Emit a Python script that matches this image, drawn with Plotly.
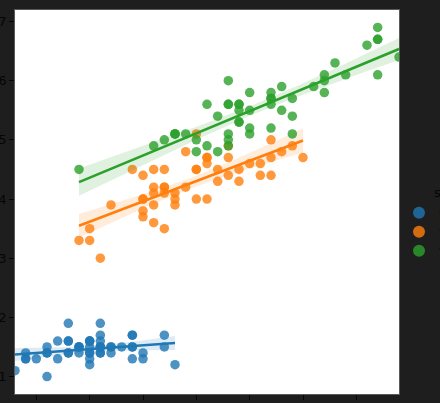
"""
iris lmplot
sepal length vs petal length, one regression per species
"""

import numpy as np
import plotly.graph_objects as go

# ==========================================================
# DATA
# ==========================================================

species = ["setosa", "versicolor", "virginica"]

colors = ["#1f77b4", "#ff7f0e", "#2ca02c"]

setosa_sepal_length = [
    5.1, 4.9, 4.7, 4.6, 5.0, 5.4, 4.6, 5.0, 4.4, 4.9,
    5.4, 4.8, 4.8, 4.3, 5.8, 5.7, 5.4, 5.1, 5.7, 5.1,
    5.4, 5.1, 4.6, 5.1, 4.8, 5.0, 5.0, 5.2, 5.2, 4.7,
    4.8, 5.4, 5.2, 5.5, 4.9, 5.0, 5.5, 4.9, 4.4, 5.1,
    5.0, 4.5, 4.4, 5.0, 5.1, 4.8, 5.1, 4.6, 5.3, 5.0
]

setosa_petal_length = [
    1.4, 1.4, 1.3, 1.5, 1.4, 1.7, 1.4, 1.5, 1.4, 1.5,
    1.5, 1.6, 1.4, 1.1, 1.2, 1.5, 1.3, 1.4, 1.7, 1.5,
    1.7, 1.5, 1.0, 1.7, 1.9, 1.6, 1.6, 1.5, 1.4, 1.6,
    1.6, 1.5, 1.5, 1.4, 1.5, 1.2, 1.3, 1.5, 1.3, 1.5,
    1.3, 1.3, 1.3, 1.6, 1.9, 1.4, 1.6, 1.4, 1.5, 1.4
]

versicolor_sepal_length = [
    7.0, 6.4, 6.9, 5.5, 6.5, 5.7, 6.3, 4.9, 6.6, 5.2,
    5.0, 5.9, 6.0, 6.1, 5.6, 6.7, 5.6, 5.8, 6.2, 5.6,
    5.9, 6.1, 6.3, 6.1, 6.4, 6.6, 6.8, 6.7, 6.0, 5.7,
    5.5, 5.5, 5.8, 6.0, 5.4, 6.0, 6.7, 6.3, 5.6, 5.5,
    5.5, 6.1, 5.8, 5.0, 5.6, 5.7, 5.7, 6.2, 5.1, 5.7
]

versicolor_petal_length = [
    4.7, 4.5, 4.9, 4.0, 4.6, 4.5, 4.7, 3.3, 4.6, 3.9,
    3.5, 4.2, 4.0, 4.7, 3.6, 4.4, 4.5, 4.1, 4.5, 3.9,
    4.8, 4.0, 4.9, 4.7, 4.3, 4.4, 4.8, 5.0, 4.5, 3.5,
    3.8, 3.7, 3.9, 5.1, 4.5, 4.5, 4.7, 4.4, 4.1, 4.0,
    4.4, 4.6, 4.0, 3.3, 4.2, 4.2, 4.2, 4.3, 3.0, 4.1
]

virginica_sepal_length = [
    6.3, 5.8, 7.1, 6.3, 6.5, 7.6, 4.9, 7.3, 6.7, 7.2,
    6.5, 6.4, 6.8, 5.7, 5.8, 6.4, 6.5, 7.7, 7.7, 6.0,
    6.9, 5.6, 7.7, 6.3, 6.7, 7.2, 6.2, 6.1, 6.4, 7.2,
    7.4, 7.9, 6.4, 6.3, 6.1, 7.7, 6.3, 6.4, 6.0, 6.9,
    6.7, 6.9, 5.8, 6.8, 6.7, 6.7, 6.3, 6.5, 6.2, 5.9
]

virginica_petal_length = [
    6.0, 5.1, 5.9, 5.6, 5.8, 6.6, 4.5, 6.3, 5.8, 6.1,
    5.1, 5.3, 5.5, 5.0, 5.1, 5.3, 5.5, 6.7, 6.9, 5.0,
    5.7, 4.9, 6.7, 4.9, 5.7, 6.0, 4.8, 4.9, 5.6, 5.8,
    6.1, 6.4, 5.6, 5.1, 5.6, 6.1, 5.6, 5.5, 4.8, 5.4,
    5.6, 5.1, 5.1, 5.9, 5.7, 5.2, 5.0, 5.2, 5.4, 5.1
]

sepal_length = [setosa_sepal_length, versicolor_sepal_length, virginica_sepal_length]
petal_length = [setosa_petal_length, versicolor_petal_length, virginica_petal_length]

y_ticks = [1, 2, 3, 4, 5, 6, 7]
x_ticks = [4.5, 5.0, 5.5, 6.0, 6.5, 7.0, 7.5]

BG = "#1e1e1e"
INK = "#050505"


def hex_rgba(h, a):
    h = h.lstrip("#")
    return "rgba(%d,%d,%d,%s)" % (int(h[0:2], 16), int(h[2:4], 16), int(h[4:6], 16), a)


# ==========================================================
# REGRESSION WITH 95% BAND
# ==========================================================

def fit_band(x, y):

    x = np.asarray(x, float)
    y = np.asarray(y, float)
    n = len(x)

    slope, intercept = np.polyfit(x, y, 1)
    grid = np.linspace(x.min(), x.max(), 100)
    yhat = intercept + slope * grid

    resid = y - (intercept + slope * x)
    s = np.sqrt(np.sum(resid ** 2) / (n - 2))
    se = s * np.sqrt(1 / n + (grid - x.mean()) ** 2 / np.sum((x - x.mean()) ** 2))

    return grid, yhat, yhat - 2.01 * se, yhat + 2.01 * se


# ==========================================================
# FIGURE
# ==========================================================

fig = go.Figure()

for name, color, xs, ys in zip(species, colors, sepal_length, petal_length):

    fig.add_trace(
        go.Scatter(
            x=xs,
            y=ys,
            mode="markers",
            name=name,
            marker=dict(size=9.5, color=color, opacity=0.8, line=dict(width=0)),
            legendgroup=name
        )
    )

    grid, yhat, lo, hi = fit_band(xs, ys)

    fig.add_trace(
        go.Scatter(
            x=grid, y=lo, mode="lines",
            line=dict(width=0, color=color),
            showlegend=False, hoverinfo="skip"
        )
    )

    fig.add_trace(
        go.Scatter(
            x=grid, y=hi, mode="lines",
            line=dict(width=0, color=color),
            fill="tonexty", fillcolor=hex_rgba(color, 0.15),
            showlegend=False, hoverinfo="skip"
        )
    )

    fig.add_trace(
        go.Scatter(
            x=grid, y=yhat, mode="lines",
            line=dict(width=2.6, color=color),
            showlegend=False, hoverinfo="skip"
        )
    )

fig.add_annotation(
    text="species",
    xref="paper", yref="paper",
    x=1.086, y=0.525,
    xanchor="left", yanchor="middle",
    showarrow=False,
    font=dict(size=13, color=INK, family="DejaVu Sans")
)

fig.update_layout(

    width=440,
    height=403,
    template="none",

    paper_bgcolor=BG,
    plot_bgcolor="white",

    margin=dict(l=15, r=41, t=10, b=9, pad=0, autoexpand=False),

    font=dict(family="DejaVu Sans", size=13, color=INK),

    showlegend=True,
    legend=dict(
        x=1.0, y=0.51,
        xanchor="left", yanchor="top",
        bgcolor="rgba(0,0,0,0)",
        font=dict(size=12, color=INK),
        tracegroupgap=0,
        itemsizing="constant"
    ),

    xaxis=dict(
        range=[4.3, 7.9],
        tickvals=x_ticks,
        tickfont=dict(color=INK),
        ticks="outside", ticklen=5, tickcolor=INK, tickwidth=1,
        showgrid=False, zeroline=False,
        showline=True, linecolor="#5a5a5a", linewidth=1, mirror=True,
        automargin=False
    ),

    yaxis=dict(
        range=[0.705, 7.195],
        tickvals=y_ticks,
        tickfont=dict(color=INK),
        ticks="outside", ticklen=5, tickcolor=INK, tickwidth=1,
        showgrid=False, zeroline=False,
        showline=True, linecolor="#5a5a5a", linewidth=1, mirror=True,
        automargin=False
    )
)

# page body: no default 8px margin, same dark colour as the figure
page_js = "document.body.style.margin='0';document.body.style.background='%s';" % BG

fig.write_html(
    "out.html",
    post_script=page_js,
    config={"displayModeBar": False}
)
